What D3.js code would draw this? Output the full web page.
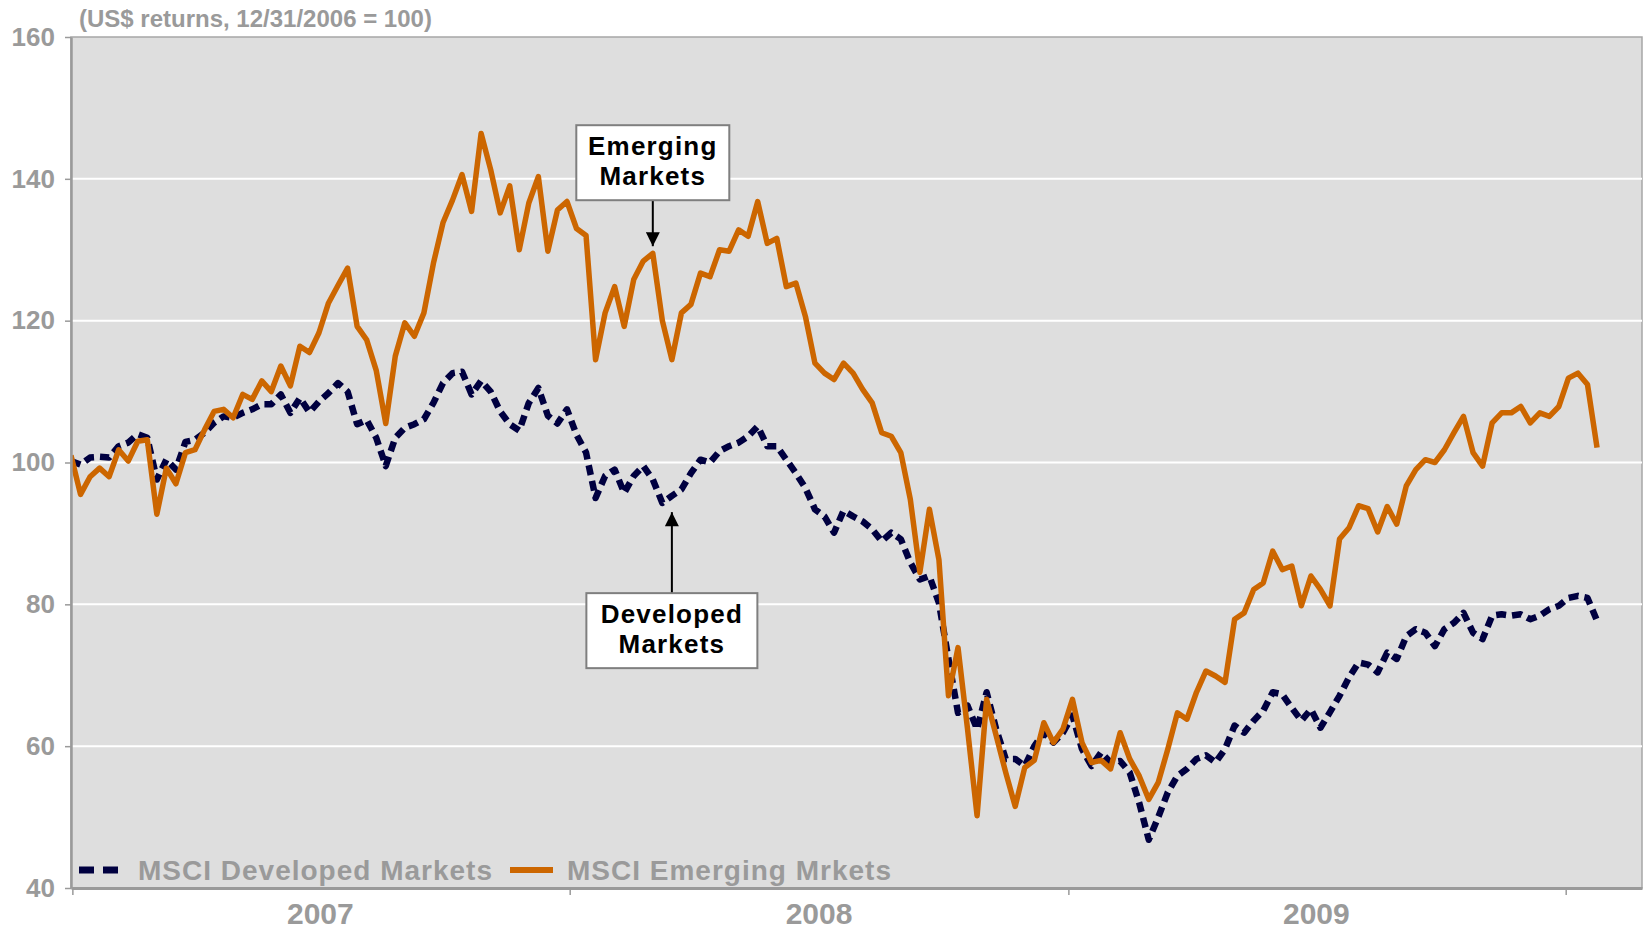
<!DOCTYPE html>
<html>
<head>
<meta charset="utf-8">
<script src="https://cdn.jsdelivr.net/npm/d3@7"></script>
<style>
  body { margin: 0; background: #fff; }
  svg { display: block; font-family: "Liberation Sans", Arial, sans-serif; font-weight: bold; }
</style>
</head>
<body>
<div id="chart"></div>
<script>
const weekStart = new Date(2006, 11, 31);
const weekStop = new Date(2010, 0, 25);
const weeks = d3.timeWeek.range(weekStart, weekStop);

const developed = [
  100.2, 99.7, 100.7, 100.8, 100.7, 102.3, 102.8, 104, 103.5, 97.6,
  100.4, 99, 102.9, 103.2, 104.2, 105.6, 106.5, 106.3, 107, 107.5,
  108.2, 108.2, 109.6, 107, 109.1, 107.1, 108.6, 109.8, 111.2, 110,
  105.4, 106, 103.5, 99.5, 103.5, 104.9, 105.4, 106.1, 108.4, 111.2,
  112.6, 112.8, 109.6, 111.5, 110, 107.2, 105.4, 104.5, 108.4, 110.5,
  106.6, 105.5, 107.5, 103.9, 101.4, 95, 98.1, 99, 95.7, 98.1,
  99.5, 97.6, 94.3, 95.3, 96.2, 98.5, 100.4, 100, 101.6, 102.3,
  102.8, 103.7, 105.1, 102.3, 102.3, 100.4, 98.5, 96.4, 93.4, 92.4,
  90.1, 93.2, 92.4, 91.7, 90.6, 88.9, 90.1, 89.2, 85.9, 83.5,
  84, 80.2, 72.3, 64.7, 65.7, 62.4, 67.6, 62.4, 58.2, 58.2,
  57.2, 60, 61.9, 60.5, 61.9, 64.3, 59.6, 57.2, 59.1, 57.7,
  57.9, 56.3, 52, 46.8, 50, 53.5, 55.8, 56.8, 58.2, 58.7,
  57.7, 59.6, 62.9, 61.9, 63.6, 65, 67.6, 67.3, 65.4, 63.6,
  65.2, 62.6, 64.8, 67.1, 69.7, 71.8, 71.5, 70.4, 73.2, 72.3,
  75.5, 76.5, 76, 74.1, 76.5, 77.4, 78.8, 76, 75.1, 78.4,
  78.6, 78.4, 78.6, 77.9, 78.4, 79.3, 79.8, 80.9, 81.2, 80.9,
  77.7
];

const emerging = [
  101, 95.5, 98, 99.2, 98, 101.8, 100.2, 103, 103.2, 92.7,
  99.2, 97, 101.4, 101.8, 104.6, 107.2, 107.5, 106.3, 109.6, 108.9,
  111.5, 110, 113.6, 110.8, 116.4, 115.5, 118.3, 122.5, 125, 127.4,
  119.2, 117.3, 113, 105.5, 115, 119.7, 117.8, 121.1, 128.1, 133.8,
  137, 140.6, 135.4, 146.4, 141.3, 135.2, 139, 130, 136.6, 140.3,
  129.8, 135.6, 136.8, 133, 132, 114.5, 121.1, 124.8, 119.2, 125.8,
  128.4, 129.5, 120, 114.5, 121.1, 122.3, 126.7, 126.2, 130, 129.8,
  132.8, 131.9, 136.8, 130.9, 131.6, 124.8, 125.3, 120.6, 114, 112.6,
  111.7, 114, 112.6, 110.3, 108.4, 104.2, 103.7, 101.4, 94.8, 84.5,
  93.4, 86.3, 67.1, 73.9, 62.4, 50.2, 66.6, 61.5, 56.3, 51.5,
  57, 58, 63.3, 60.5, 62.4, 66.6, 60.5, 57.7, 58, 56.8,
  61.9, 58.2, 55.8, 52.5, 54.9, 59.6, 64.7, 63.8, 67.6, 70.6,
  69.9, 69, 77.9, 78.8, 82.1, 83, 87.5, 84.9, 85.4, 79.8,
  84, 82.1, 79.8, 89.2, 90.8, 93.9, 93.5, 90.2, 93.8, 91.3,
  96.7, 99, 100.4, 100, 101.8, 104.2, 106.5, 101.4, 99.5, 105.6,
  107, 107, 107.9, 105.6, 107, 106.5, 107.9, 111.9, 112.6, 111,
  102.1
];

const yTicks = [40, 60, 80, 100, 120, 140, 160];
const yearLabels = ["2007", "2008", "2009"];
const titleText = "(US$ returns, 12/31/2006 = 100)";
const legendLabels = ["MSCI Developed Markets", "MSCI Emerging Mrkets"];

// callouts: week index + value the arrow points at
const callouts = [
  { lines: ["Emerging", "Markets"], week: 61, value: 130.5, side: "above", w: 153 },
  { lines: ["Developed", "Markets"], week: 63, value: 93, side: "below", w: 171 },
];

const W = 1643, H = 932;
const margin = { top: 37, right: 1, bottom: 44, left: 71 };
const innerW = W - margin.left - margin.right;
const innerH = H - margin.top - margin.bottom;

const gray = "#9a9a9a";
const navy = "#000040";
const orange = "#cc6600";

const x = d3.scaleTime()
  .domain([weekStart, new Date(2010, 1, 26)])
  .range([0, innerW]);

const y = d3.scaleLinear()
  .domain([40, 160])
  .range([innerH, 0]);

const svg = d3.select("#chart")
  .append("svg")
  .attr("width", W)
  .attr("height", H)
  .attr("viewBox", [0, 0, W, H]);

const g = svg.append("g")
  .attr("transform", `translate(${margin.left},${margin.top})`);

// plot area
g.append("rect")
  .attr("width", innerW)
  .attr("height", innerH)
  .attr("fill", "#dedede")
  .attr("stroke", "#a6a6a6")
  .attr("stroke-width", 1.5);

// gridlines
g.append("g")
  .selectAll("line")
  .data(yTicks.filter(v => v > 40 && v < 160))
  .join("line")
  .attr("x1", 0)
  .attr("x2", innerW)
  .attr("y1", d => y(d))
  .attr("y2", d => y(d))
  .attr("stroke", "#fff")
  .attr("stroke-width", 2);

svg.append("clipPath")
  .attr("id", "plot-clip")
  .append("rect")
  .attr("width", innerW)
  .attr("height", innerH);

const line = d3.line()
  .x(d => x(d[0]))
  .y(d => y(d[1]));

const lines = g.append("g").attr("clip-path", "url(#plot-clip)");

lines.append("path")
  .datum(d3.zip(weeks, developed))
  .attr("fill", "none")
  .attr("stroke", navy)
  .attr("stroke-width", 6.5)
  .attr("stroke-dasharray", "10,6")
  .attr("stroke-linejoin", "round")
  .attr("d", line);

lines.append("path")
  .datum(d3.zip(weeks, emerging))
  .attr("fill", "none")
  .attr("stroke", orange)
  .attr("stroke-width", 5.5)
  .attr("stroke-linejoin", "round")
  .attr("d", line);

// y axis
const yAxis = g.append("g")
  .call(d3.axisLeft(y).tickValues(yTicks).tickSize(6).tickSizeOuter(0).tickPadding(10));
yAxis.select(".domain").attr("stroke", gray).attr("stroke-width", 2.5);
yAxis.selectAll(".tick line").attr("stroke", gray).attr("stroke-width", 1.5);
yAxis.selectAll(".tick text")
  .attr("fill", gray)
  .style("font-size", "26px")
  .style("font-weight", "bold")
  .style("font-family", "'Liberation Sans', Arial, sans-serif");

// x axis: year boundaries, labels centred in each year
const xAxis = g.append("g")
  .attr("transform", `translate(0,${innerH})`)
  .call(d3.axisBottom(x).ticks(d3.timeYear.every(1)).tickFormat("").tickSize(7).tickSizeOuter(0));
xAxis.select(".domain").attr("stroke", gray).attr("stroke-width", 3);
xAxis.selectAll(".tick line").attr("stroke", gray).attr("stroke-width", 1.5);

g.append("g")
  .selectAll("text")
  .data(yearLabels)
  .join("text")
  .attr("x", d => x(new Date(+d, 6, 2)))
  .attr("y", innerH + 36)
  .attr("text-anchor", "middle")
  .attr("fill", gray)
  .style("font-size", "30px")
  .text(d => d);

// units note above the plot
svg.append("text")
  .attr("x", 79)
  .attr("y", 27)
  .attr("fill", gray)
  .style("font-size", "24px")
  .text(titleText);

// legend, inside plot at the bottom
const legend = g.append("g").attr("transform", `translate(0,${innerH - 18})`);
legend.append("line")
  .attr("x1", 8).attr("x2", 54)
  .attr("stroke", navy)
  .attr("stroke-width", 7)
  .attr("stroke-dasharray", "15,9");
legend.append("text")
  .attr("x", 67).attr("y", 10)
  .attr("fill", gray)
  .style("font-size", "28px")
  .style("letter-spacing", "1px")
  .text(legendLabels[0]);
legend.append("line")
  .attr("x1", 439).attr("x2", 482)
  .attr("stroke", orange)
  .attr("stroke-width", 6);
legend.append("text")
  .attr("x", 496).attr("y", 10)
  .attr("fill", gray)
  .style("font-size", "28px")
  .style("letter-spacing", "1px")
  .text(legendLabels[1]);

// callout boxes with arrows
svg.append("defs").append("marker")
  .attr("id", "arrowhead")
  .attr("viewBox", "0 0 10 10")
  .attr("refX", 10).attr("refY", 5)
  .attr("markerWidth", 16).attr("markerHeight", 14)
  .attr("markerUnits", "userSpaceOnUse")
  .attr("orient", "auto")
  .append("path")
  .attr("d", "M0,0L10,5L0,10Z")
  .attr("fill", "#000");

const boxH = 75;
callouts.forEach(c => {
  const tx = x(weeks[c.week]);
  const ty = y(c.value);
  const by = c.side === "above" ? ty - 46 - boxH : ty + 81;
  const cg = g.append("g");

  cg.append("line")
    .attr("x1", tx)
    .attr("x2", tx)
    .attr("y1", c.side === "above" ? by + boxH : by)
    .attr("y2", ty)
    .attr("stroke", "#000")
    .attr("stroke-width", 2)
    .attr("marker-end", "url(#arrowhead)");

  cg.append("rect")
    .attr("x", tx - c.w / 2)
    .attr("y", by)
    .attr("width", c.w)
    .attr("height", boxH)
    .attr("fill", "#fff")
    .attr("stroke", "#7f7f7f")
    .attr("stroke-width", 2);

  cg.selectAll("text")
    .data(c.lines)
    .join("text")
    .attr("x", tx)
    .attr("y", (d, i) => by + 30 + i * 30)
    .attr("text-anchor", "middle")
    .attr("fill", "#000")
    .style("font-size", "26px")
    .style("letter-spacing", "1.2px")
    .text(d => d);
});
</script>
</body>
</html>
